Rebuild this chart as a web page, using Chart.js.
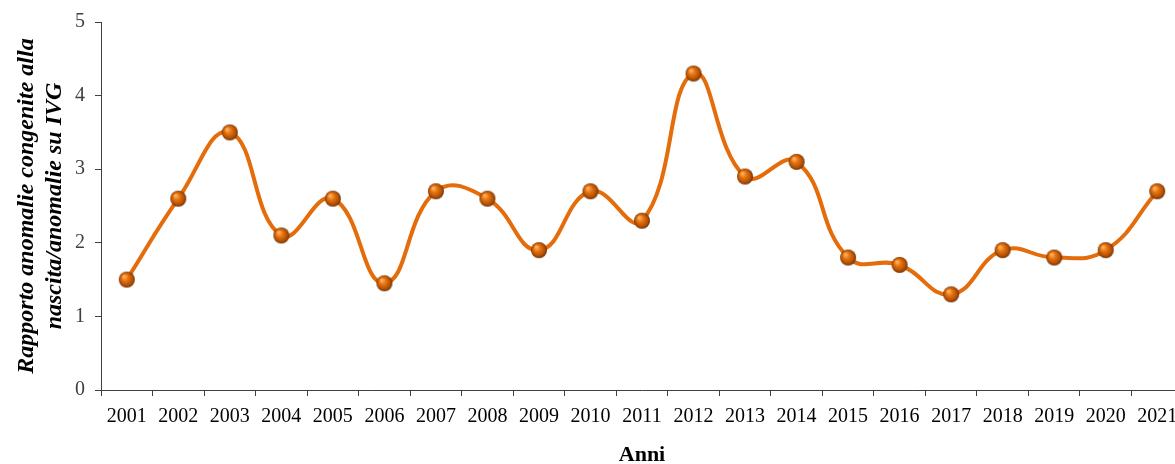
<!DOCTYPE html>
<html>
<head>
<meta charset="utf-8">
<script src="https://cdn.jsdelivr.net/npm/chart.js@4"></script>
<style>
  html, body { margin: 0; padding: 0; background: #fff; overflow: hidden; }
  #wrap { width: 1195px; height: 464px; position: relative; }
</style>
</head>
<body>
<div id="wrap"><canvas id="chart"></canvas></div>
<script>
// Rapporto anomalie congenite alla nascita / anomalie su IVG, 2001-2021
const YEARS = ['2001', '2002', '2003', '2004', '2005', '2006', '2007', '2008', '2009', '2010', '2011',
  '2012', '2013', '2014', '2015', '2016', '2017', '2018', '2019', '2020', '2021'];
const RATIO = [1.5, 2.6, 3.5, 2.1, 2.6, 1.45, 2.7, 2.6, 1.9, 2.7, 2.3,
  4.3, 2.9, 3.1, 1.8, 1.7, 1.3, 1.9, 1.8, 1.9, 2.7];
const Y_TICKS = [0, 1, 2, 3, 4, 5];

const ORANGE = '#e46c0a';
const SERIF = "'Liberation Serif', 'DejaVu Serif', serif";

// shaded "ball" marker like the original
function ballMarker(r) {
  const c = document.createElement('canvas');
  const s = r * 2 + 2;
  c.width = s; c.height = s;
  const g = c.getContext('2d');
  const cx = s / 2, cy = s / 2;
  const grad = g.createRadialGradient(cx - r * 0.35, cy - r * 0.4, r * 0.1, cx, cy, r);
  grad.addColorStop(0, '#ffb060');
  grad.addColorStop(0.35, '#e8750f');
  grad.addColorStop(0.8, '#b04e05');
  grad.addColorStop(1, '#6a2e02');
  g.fillStyle = grad;
  g.beginPath();
  g.arc(cx, cy, r, 0, Math.PI * 2);
  g.fill();
  return c;
}

new Chart(document.getElementById('chart'), {
  type: 'line',
  data: {
    labels: YEARS,
    datasets: [{
      data: RATIO,
      borderColor: ORANGE,
      borderWidth: 4,
      tension: 0.45,
      pointStyle: ballMarker(8),
      pointRadius: 8,
      pointHoverRadius: 8
    }]
  },
  options: {
    responsive: true, maintainAspectRatio: false, animation: false,
    layout: { padding: { top: 22, right: 0, bottom: 0, left: 12 } },
    plugins: { legend: { display: false }, tooltip: { enabled: false } },
    scales: {
      x: {
        offset: true,
        grid: { offset: true, drawOnChartArea: false, drawTicks: true, tickLength: 6, color: '#404040' },
        border: { color: '#404040' },
        ticks: { color: '#000', font: { family: SERIF, size: 20 }, padding: 9, maxRotation: 0, autoSkip: false },
        title: { display: true, text: 'Anni', color: '#000', font: { family: SERIF, size: 22, weight: 'bold', lineHeight: 1 }, padding: { top: 11, bottom: -2 } },
        afterFit: s => { s.height = 74; }
      },
      y: {
        min: 0, max: 5,
        afterBuildTicks: s => { s.ticks = Y_TICKS.map(v => ({ value: v })); },
        grid: { drawOnChartArea: false, drawTicks: true, tickLength: 6, color: '#404040' },
        border: { color: '#404040' },
        ticks: { color: '#404040', font: { family: SERIF, size: 20 }, padding: 10 },
        title: {
          display: true,
          text: ['Rapporto anomalie congenite alla', 'nascita/anomalie su IVG'],
          color: '#000',
          font: { family: SERIF, size: 24, weight: 'bold', style: 'italic' },
          lineHeight: 1.2,
          padding: { top: 0, bottom: 4 }
        },
        afterFit: s => { s.width = 89; }
      }
    }
  }
});
</script>
</body>
</html>
